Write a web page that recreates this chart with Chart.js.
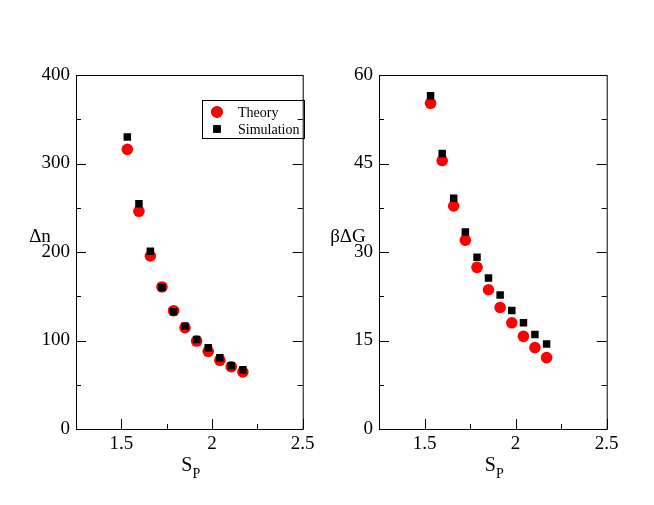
<!DOCTYPE html>
<html>
<head>
<meta charset="utf-8">
<script src="https://cdn.jsdelivr.net/npm/chart.js@4.4.1/dist/chart.umd.min.js"></script>
<style>
  html, body { margin: 0; padding: 0; background: #fff; }
  #wrap { position: relative; width: 654px; height: 505px; }
  canvas { position: absolute; top: 0; }
  #left { left: 0; }
  #right { left: 327px; }
</style>
</head>
<body>
<div id="wrap">
  <canvas id="left" width="327" height="505"></canvas>
  <canvas id="right" width="327" height="505"></canvas>
</div>
<script>
// ========== DATA ==========
const supersaturation = [1.533, 1.597, 1.660, 1.724, 1.788, 1.851, 1.915, 1.979, 2.043, 2.106, 2.170];

const deltaNTheory = [316, 246, 195.5, 160.5, 133.7, 114.5, 99.4, 87.8, 77.6, 70.4, 64.4];
const deltaNSimulation = [330, 254.6, 200.8, 160, 132.5, 116, 101, 91.9, 80.6, 71.5, 67];

const barrierTheory = [55.2, 45.5, 37.8, 32.0, 27.4, 23.6, 20.6, 18.0, 15.7, 13.8, 12.1];
const barrierSimulation = [56.5, 46.7, 39.1, 33.4, 29.1, 25.6, 22.7, 20.1, 18.0, 16.0, 14.4];

const xMajorTicks = [1.5, 2, 2.5];
const xMinorTicks = [1.75, 2.25];
const leftMajorTicks = [0, 100, 200, 300, 400];
const leftMinorTicks = [50, 150, 250, 350];
const rightMajorTicks = [0, 15, 30, 45, 60];
const rightMinorTicks = [7.5, 22.5, 37.5, 52.5];

const FONT = "'Liberation Serif', 'DejaVu Serif', serif";

// ========== PLUGINS ==========
// frame plus inward ticks on left, right and bottom
const frameTicks = {
  id: "frameTicks",
  beforeDatasetsDraw(chart, args, opts) {
    const { ctx, chartArea: a, scales: { x, y } } = chart;
    ctx.save();
    ctx.strokeStyle = "#000";
    ctx.lineWidth = 1;
    ctx.strokeRect(a.left + 0.5, a.top + 0.5, a.right - a.left, a.bottom - a.top);
    ctx.beginPath();
    const tickX = (vals, len) => vals.forEach((v) => {
      const px = Math.round(x.getPixelForValue(v)) + 0.5;
      ctx.moveTo(px, a.bottom);
      ctx.lineTo(px, a.bottom - len);
    });
    const tickY = (vals, len) => vals.forEach((v) => {
      const py = Math.round(y.getPixelForValue(v)) + 0.5;
      ctx.moveTo(a.left, py);
      ctx.lineTo(a.left + len, py);
      ctx.moveTo(a.right, py);
      ctx.lineTo(a.right - len, py);
    });
    tickX(xMajorTicks, 10);
    tickX(xMinorTicks, 5);
    tickY(opts.yMajor, 10);
    tickY(opts.yMinor, 5);
    ctx.stroke();
    ctx.restore();
  },
  afterDraw(chart, args, opts) {
    const { ctx, chartArea: a } = chart;
    ctx.save();
    ctx.fillStyle = "#000";
    ctx.textBaseline = "alphabetic";
    // y title, horizontal
    ctx.font = "19px " + FONT;
    ctx.textAlign = "center";
    ctx.fillText(opts.yTitle, a.left + opts.yTitleDx, 242);
    // x title S with subscript P
    const cx = (a.left + a.right) / 2;
    ctx.textAlign = "left";
    ctx.font = "20px " + FONT;
    const sw = ctx.measureText("S").width;
    ctx.fillText("S", cx - 8, 471);
    ctx.font = "14px " + FONT;
    ctx.fillText("P", cx - 8 + sw, 478);
    ctx.restore();
  }
};

// boxed legend inside the left panel
const boxLegend = {
  id: "boxLegend",
  afterDraw(chart, args, opts) {
    if (!opts.show) return;
    const { ctx } = chart;
    ctx.save();
    ctx.strokeStyle = "#000";
    ctx.lineWidth = 1;
    ctx.strokeRect(202.5, 100.5, 102, 38);
    ctx.font = "14px " + FONT;
    ctx.textBaseline = "middle";
    ctx.textAlign = "left";
    const rows = [112, 129];
    chart.data.datasets.forEach((ds, i) => {
      Chart.helpers.drawPoint(ctx, {
        pointStyle: ds.pointStyle,
        radius: ds.pointRadius,
        borderWidth: 0
      }, 217, rows[i]);
      ctx.fillStyle = ds.backgroundColor;
      ctx.fill();
      ctx.fillStyle = "#000";
      ctx.fillText(ds.label, 238, rows[i] + 1);
    });
    ctx.restore();
  }
};

// ========== CHART BUILDER ==========
function makePanel(canvasId, theory, simulation, yMax, yMajor, yMinor, yTitle, yTitleDx, plotLeft, plotRight, showLegend) {
  new Chart(document.getElementById(canvasId), {
    type: "scatter",
    data: {
      datasets: [
        {
          label: "Theory",
          data: supersaturation.map((s, i) => ({ x: s, y: theory[i] })),
          pointStyle: "circle",
          pointRadius: 5.8,
          backgroundColor: "#ff0000",
          borderWidth: 0,
          order: 1
        },
        {
          label: "Simulation",
          data: supersaturation.map((s, i) => ({ x: s, y: simulation[i] })),
          pointStyle: "rect",
          pointRadius: 5.3,
          backgroundColor: "#000000",
          borderWidth: 0,
          order: 0
        }
      ]
    },
    options: {
      responsive: false,
      animation: false,
      devicePixelRatio: 1,
      layout: { padding: { left: 0, top: 75, right: 327 - plotRight, bottom: 0 } },
      plugins: {
        legend: { display: false },
        tooltip: { enabled: false },
        frameTicks: { yMajor: yMajor, yMinor: yMinor, yTitle: yTitle, yTitleDx: yTitleDx },
        boxLegend: { show: showLegend }
      },
      scales: {
        x: {
          type: "linear",
          min: 1.25,
          max: 2.5,
          grid: { display: false, drawTicks: false },
          border: { display: false },
          afterBuildTicks: (scale) => { scale.ticks = xMajorTicks.map((v) => ({ value: v })); },
          afterFit: (scale) => { scale.height = 76; },
          ticks: {
            color: "#000",
            font: { family: FONT, size: 19 },
            padding: 4,
            maxRotation: 0,
            callback: (v) => String(v)
          }
        },
        y: {
          type: "linear",
          min: 0,
          max: yMax,
          grid: { display: false, drawTicks: false },
          border: { display: false },
          afterBuildTicks: (scale) => { scale.ticks = yMajor.map((v) => ({ value: v })); },
          afterFit: (scale) => { scale.width = plotLeft; },
          ticks: {
            color: "#000",
            font: { family: FONT, size: 19 },
            padding: 6,
            callback: (v) => String(v)
          }
        }
      }
    },
    plugins: [frameTicks, boxLegend]
  });
}

document.addEventListener("DOMContentLoaded", () => {
  makePanel("left", deltaNTheory, deltaNSimulation, 400, leftMajorTicks, leftMinorTicks, "\u0394n", -36, 76, 302.7, true);
  makePanel("right", barrierTheory, barrierSimulation, 60, rightMajorTicks, rightMinorTicks, "\u03b2\u0394G", -31, 52, 279.7, false);
});
</script>
</body>
</html>
